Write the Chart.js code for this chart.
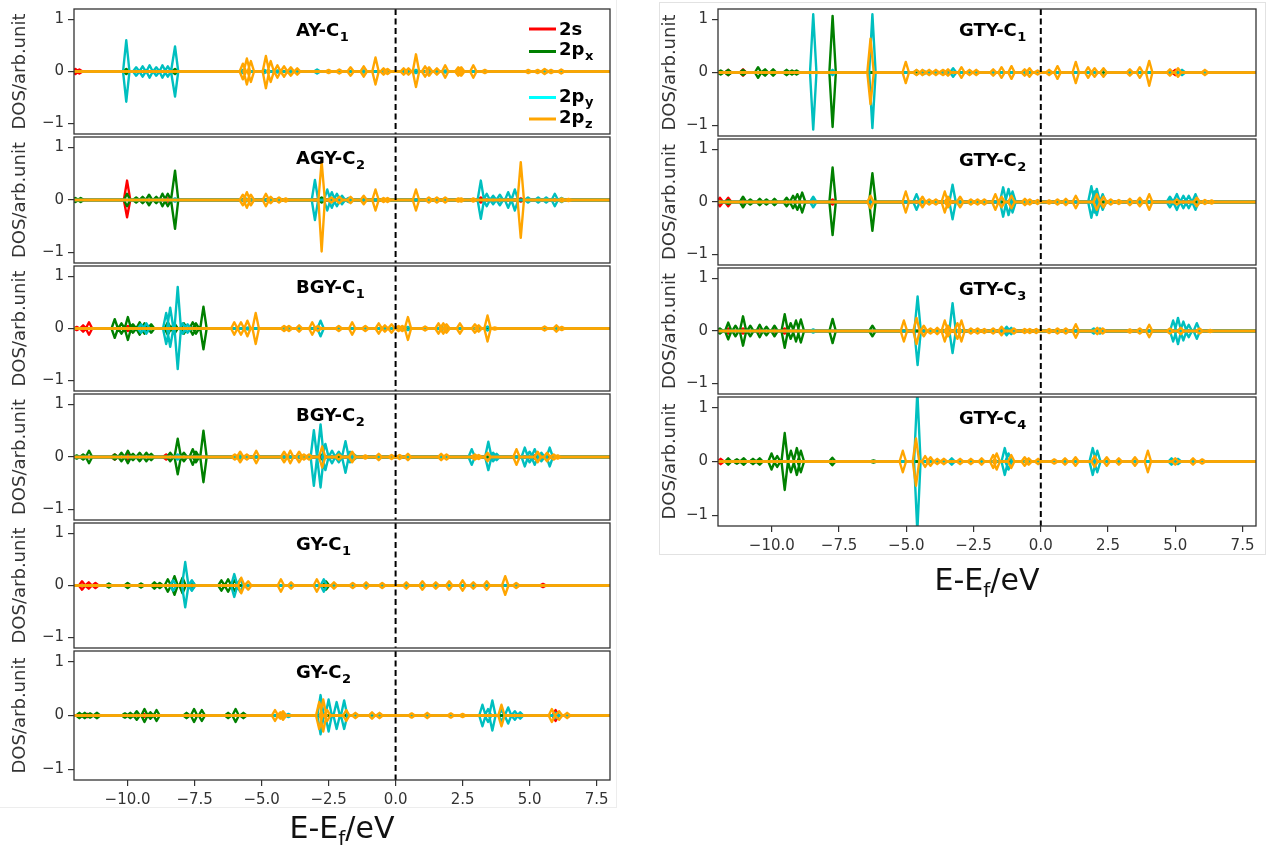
<!DOCTYPE html>
<html>
<head>
<meta charset="utf-8">
<title>Projected DOS of carbon sites</title>
<script src="https://cdn.jsdelivr.net/npm/chart.js@4.4.1/dist/chart.umd.min.js"></script>
<style>
  html, body { margin: 0; padding: 0; background: #fff; }
  #page { position: relative; width: 1266px; height: 847px; overflow: hidden; }
  #page canvas { position: absolute; }
  .frame { position: absolute; border: 1px solid #e2e2e2; }
</style>
</head>
<body>
<div id="page">
  <div class="frame" style="left:659px;top:2px;width:605px;height:551px"></div>
  <div class="frame" style="left:-2px;top:-2px;width:617px;height:808px;border-color:#ededed"></div>
</div>
<script>
// axis ticks
const xTicks = [-10, -7.5, -5, -2.5, 0, 2.5, 5, 7.5];
const yTicks = [-1, 0, 1];
const X_MIN = -12, X_MAX = 8;
const Y_MIN = -1.2, Y_MAX = 1.2;

// orbitals, in legend order
const orbitalLabels = [['2s', ''], ['2p', 'x'], ['2p', 'y'], ['2p', 'z']];
const orbitalColors = ['#ff0000', '#008000', '#00bfbf', '#ffa500'];
const legendColors = ['#ff0000', '#008000', '#00ffff', '#ffa500'];

// peaks: [energy (eV), spin-up height, spin-down height (if different)]
const AY_C1_s = [[-11.95, 0.05], [-11.8, 0.04]];
const AY_C1_px = [[-10.05, 0.05], [-8.23, 0.05]];
const AY_C1_py = [[-10.05, 0.6, 0.58], [-9.68, 0.08], [-9.44, 0.1], [-9.18, 0.12], [-8.93, 0.08], [-8.7, 0.12], [-8.5, 0.1], [-8.23, 0.48],
  [-5.7, 0.03], [-4.9, 0.03], [-4.4, 0.02], [-3.9, 0.02], [-2.93, 0.04], [-1.19, 0.02], [0.76, 0.03], [1.25, 0.03], [1.85, 0.02], [5.6, 0.02]];
const AY_C1_pz = [[-5.7, 0.15], [-5.55, 0.25], [-5.4, 0.2], [-4.84, 0.3, 0.32], [-4.66, 0.2], [-4.41, 0.12], [-4.16, 0.1], [-3.91, 0.08], [-3.67, 0.06],
  [-2.5, 0.03], [-2.1, 0.04], [-1.68, 0.08], [-1.19, 0.1], [-0.75, 0.27, 0.25], [-0.45, 0.06], [-0.3, 0.05], [0.3, 0.06], [0.48, 0.06],
  [0.76, 0.33, 0.3], [1.1, 0.1], [1.25, 0.08], [1.54, 0.06], [1.85, 0.12], [2.34, 0.08], [2.45, 0.08], [2.9, 0.12], [3.33, 0.03],
  [4.95, 0.03], [5.3, 0.03], [5.56, 0.05], [5.8, 0.03], [6.18, 0.04]];

const AGY_C2_s = [[-10.02, 0.37, 0.33], [-8.5, 0.03], [3.18, 0.05], [4.67, 0.03]];
const AGY_C2_px = [[-11.95, 0.04], [-11.75, 0.04], [-10.02, 0.12], [-9.68, 0.05], [-9.44, 0.06], [-9.2, 0.1], [-8.93, 0.06], [-8.7, 0.12],
  [-8.5, 0.12], [-8.23, 0.56, 0.55], [-2.76, 0.05]];
const AGY_C2_py = [[-8.23, 0.03], [-5.6, 0.03], [-4.7, 0.02], [-3.01, 0.38], [-2.55, 0.2], [-2.38, 0.15], [-2.19, 0.12], [-2.0, 0.08], [-1.75, 0.04],
  [3.18, 0.37, 0.36], [3.4, 0.12], [3.64, 0.08], [3.89, 0.1], [4.2, 0.15], [4.45, 0.2], [4.94, 0.05], [5.32, 0.05], [5.62, 0.05], [5.94, 0.12], [6.2, 0.04]];
const AGY_C2_pz = [[-5.7, 0.1], [-5.55, 0.15], [-5.4, 0.1], [-4.84, 0.12], [-4.66, 0.06], [-4.35, 0.05], [-4.1, 0.03], [-2.76, 0.73, 0.98],
  [-2.4, 0.05], [-2.1, 0.06], [-1.68, 0.06], [-1.19, 0.08], [-0.75, 0.2], [-0.45, 0.04], [-0.3, 0.04], [0.76, 0.2], [1.24, 0.05], [1.54, 0.05],
  [1.85, 0.05], [2.34, 0.03], [2.45, 0.03], [2.9, 0.03], [4.67, 0.72], [6.2, 0.03], [6.45, 0.02]];

const BGY_C1_s = [[-11.9, 0.03], [-11.66, 0.06], [-11.44, 0.12], [-9.99, 0.05]];
const BGY_C1_px = [[-10.48, 0.18], [-10.23, 0.1], [-9.99, 0.22], [-9.8, 0.08], [-9.55, 0.12], [-9.37, 0.1], [-9.12, 0.08], [-8.5, 0.12], [-8.25, 0.1],
  [-7.9, 0.1], [-7.57, 0.12], [-7.45, 0.1], [-7.17, 0.42, 0.4]];
const BGY_C1_py = [[-9.5, 0.08], [-9.3, 0.1], [-8.56, 0.3], [-8.41, 0.4, 0.35], [-8.13, 0.8, 0.78], [-7.94, 0.1], [-7.76, 0.08], [-5.5, 0.02],
  [-2.8, 0.15], [0.46, 0.03], [1.7, 0.04], [3.43, 0.04]];
const BGY_C1_pz = [[-6.02, 0.12], [-5.77, 0.12], [-5.53, 0.15], [-5.22, 0.3], [-4.16, 0.05], [-3.98, 0.05], [-3.6, 0.06], [-3.11, 0.12], [-2.9, 0.05],
  [-2.12, 0.05], [-1.62, 0.12], [-1.13, 0.05], [-0.63, 0.1], [-0.4, 0.06], [-0.15, 0.08], [0.11, 0.05], [0.25, 0.05], [0.46, 0.22], [1.1, 0.04],
  [1.6, 0.1], [1.78, 0.1], [1.9, 0.08], [2.4, 0.1], [2.96, 0.08], [3.1, 0.06], [3.43, 0.25], [3.7, 0.02], [5.56, 0.04], [6.0, 0.06], [6.2, 0.03]];

const BGY_C2_s = [[-10.48, 0.05], [-9.99, 0.06], [-8.56, 0.05], [5.19, 0.03]];
const BGY_C2_px = [[-11.9, 0.03], [-11.66, 0.05], [-11.44, 0.12], [-10.48, 0.05], [-10.23, 0.08], [-9.99, 0.12], [-9.8, 0.06], [-9.55, 0.08],
  [-9.3, 0.08], [-9.12, 0.06], [-8.41, 0.08], [-8.13, 0.35, 0.33], [-7.9, 0.08], [-7.57, 0.15], [-7.45, 0.1], [-7.17, 0.5, 0.48], [-2.8, 0.05]];
const BGY_C2_py = [[-8.13, 0.05], [-5.8, 0.03], [-3.05, 0.51, 0.55], [-2.8, 0.62, 0.58], [-2.62, 0.25], [-2.37, 0.12], [-2.12, 0.1], [-1.87, 0.3],
  [-1.7, 0.1], [-1.55, 0.05], [2.84, 0.15], [3.46, 0.29, 0.25], [3.64, 0.08], [3.77, 0.06], [4.82, 0.18], [5.0, 0.1], [5.19, 0.15], [5.44, 0.08], [5.75, 0.18]];
const BGY_C2_pz = [[-6.0, 0.05], [-5.8, 0.1], [-5.55, 0.05], [-5.2, 0.12], [-4.16, 0.1], [-3.93, 0.12], [-3.6, 0.1], [-3.42, 0.05], [-3.23, 0.05],
  [-2.74, 0.2], [-2.12, 0.05], [-1.62, 0.1], [-1.13, 0.03], [-0.63, 0.06], [-0.15, 0.04], [0.15, 0.04], [0.46, 0.06], [1.7, 0.06], [1.9, 0.05],
  [2.96, 0.05], [3.1, 0.04], [3.43, 0.08], [4.51, 0.15], [5.3, 0.1], [5.65, 0.08], [5.9, 0.05], [6.05, 0.03]];

const GY_C1_s = [[-11.7, 0.08], [-11.45, 0.06], [-11.2, 0.05], [5.5, 0.03]];
const GY_C1_px = [[-10.7, 0.04], [-10.0, 0.05], [-9.5, 0.04], [-9.0, 0.06], [-8.8, 0.05], [-8.5, 0.12], [-8.25, 0.18], [-7.95, 0.15], [-7.6, 0.08],
  [-6.5, 0.1], [-6.25, 0.12], [-6.0, 0.1], [-2.6, 0.08]];
const GY_C1_py = [[-8.3, 0.1], [-7.85, 0.45, 0.42], [-7.6, 0.1], [-6.02, 0.22], [-5.8, 0.12], [-2.68, 0.12]];
const GY_C1_pz = [[-5.76, 0.15], [-5.5, 0.08], [-4.28, 0.12], [-3.9, 0.06], [-2.94, 0.12], [-2.3, 0.06], [-1.6, 0.05], [-1.1, 0.06], [-0.5, 0.05],
  [0.4, 0.06], [1.0, 0.08], [1.5, 0.06], [2.0, 0.08], [2.5, 0.1], [2.9, 0.06], [3.4, 0.08], [4.09, 0.18], [4.5, 0.05]];

const GY_C2_s = [[-11.5, 0.03], [-9.4, 0.03], [5.97, 0.1]];
const GY_C2_px = [[-11.8, 0.05], [-11.6, 0.05], [-11.4, 0.04], [-11.14, 0.05], [-10.1, 0.04], [-9.9, 0.05], [-9.66, 0.08], [-9.37, 0.12],
  [-9.15, 0.06], [-8.92, 0.1], [-7.8, 0.05], [-7.52, 0.12], [-7.23, 0.1], [-6.25, 0.05], [-5.97, 0.12], [-5.68, 0.05], [-2.77, 0.03]];
const GY_C2_py = [[-4.3, 0.03], [-4.0, 0.03], [-2.8, 0.38, 0.35], [-2.5, 0.3], [-2.2, 0.25], [-1.92, 0.28, 0.25], [-0.88, 0.03], [3.24, 0.2],
  [3.45, 0.12], [3.61, 0.28], [3.95, 0.1], [4.2, 0.15], [4.45, 0.08], [4.65, 0.06], [5.97, 0.05]];
const GY_C2_pz = [[-4.5, 0.1], [-4.3, 0.06], [-4.2, 0.08], [-2.85, 0.25], [-2.7, 0.3], [-2.55, 0.1], [-1.84, 0.1], [-1.5, 0.05], [-0.88, 0.06],
  [-0.6, 0.05], [0.6, 0.04], [1.18, 0.05], [2.06, 0.04], [2.5, 0.03], [3.95, 0.2], [5.83, 0.12], [6.1, 0.08], [6.4, 0.05]];

const GTY_C1_s = [[-11.62, 0.05], [-11.07, 0.06], [5.0, 0.05]];
const GTY_C1_px = [[-11.9, 0.04], [-11.62, 0.05], [-11.07, 0.05], [-10.51, 0.1], [-10.25, 0.06], [-9.95, 0.06], [-9.45, 0.05], [-9.25, 0.04],
  [-9.08, 0.04], [-7.74, 1.07, 1.03]];
const GTY_C1_py = [[-8.46, 1.1, 1.08], [-7.74, 0.05], [-6.26, 1.1, 1.05], [-4.62, 0.04], [-4.35, 0.03], [-3.26, 0.08], [2.33, 0.06], [5.25, 0.05]];
const GTY_C1_pz = [[-6.33, 0.64, 0.6], [-5.02, 0.2], [-4.62, 0.05], [-4.4, 0.05], [-4.15, 0.05], [-3.9, 0.05], [-3.63, 0.05], [-3.45, 0.06],
  [-2.95, 0.1], [-2.65, 0.05], [-2.4, 0.05], [-1.77, 0.06], [-1.46, 0.1], [-1.09, 0.12], [-0.6, 0.06], [-0.42, 0.08], [-0.12, 0.04], [0.31, 0.05],
  [0.62, 0.12], [1.3, 0.2], [1.76, 0.1], [2.0, 0.08], [2.33, 0.08], [3.31, 0.06], [3.68, 0.1], [4.03, 0.22, 0.25], [4.8, 0.06], [5.1, 0.08], [6.1, 0.05]];

const GTY_C2_s = [[-11.93, 0.08], [-11.62, 0.08], [-11.07, 0.03], [-7.74, 0.05]];
const GTY_C2_px = [[-11.62, 0.04], [-11.07, 0.1], [-10.8, 0.05], [-10.45, 0.06], [-10.2, 0.05], [-9.9, 0.06], [-9.45, 0.08], [-9.21, 0.12],
  [-9.05, 0.15], [-8.87, 0.18, 0.2], [-7.74, 0.66, 0.63], [-6.26, 0.55]];
const GTY_C2_py = [[-8.46, 0.1], [-4.62, 0.15], [-3.28, 0.33], [-1.4, 0.28], [-1.2, 0.25], [-1.05, 0.2], [1.88, 0.3], [2.0, 0.2], [2.08, 0.25],
  [2.3, 0.15], [4.8, 0.1], [5.06, 0.15], [5.3, 0.12], [5.5, 0.12], [5.75, 0.15]];
const GTY_C2_pz = [[-6.33, 0.12], [-5.02, 0.2], [-4.4, 0.1], [-4.15, 0.05], [-3.9, 0.05], [-3.57, 0.2], [-3.45, 0.1], [-3.0, 0.1], [-2.6, 0.05],
  [-2.35, 0.05], [-2.1, 0.05], [-1.69, 0.15], [-1.46, 0.1], [-1.09, 0.12], [-0.59, 0.06], [-0.41, 0.05], [-0.12, 0.04], [0.31, 0.03], [0.62, 0.05],
  [0.93, 0.06], [1.3, 0.12], [2.08, 0.15], [2.33, 0.1], [2.6, 0.05], [2.9, 0.04], [3.31, 0.06], [3.68, 0.08], [4.03, 0.15], [5.06, 0.05],
  [5.8, 0.08], [6.1, 0.04], [6.35, 0.03]];

const GTY_C3_s = [[-11.62, 0.05], [-11.07, 0.05], [-10.45, 0.03], [-9.9, 0.03], [-9.52, 0.05]];
const GTY_C3_px = [[-11.93, 0.05], [-11.62, 0.16], [-11.35, 0.1], [-11.07, 0.28], [-10.8, 0.1], [-10.45, 0.12], [-10.2, 0.08], [-9.9, 0.1],
  [-9.52, 0.32], [-9.3, 0.15], [-9.1, 0.2], [-8.92, 0.22], [-7.74, 0.23], [-6.26, 0.1]];
const GTY_C3_py = [[-8.46, 0.03], [-4.58, 0.66, 0.65], [-3.28, 0.53, 0.42], [-1.27, 0.08], [-1.1, 0.06], [1.97, 0.05], [2.2, 0.05], [4.92, 0.2],
  [5.1, 0.25], [5.3, 0.18], [5.5, 0.12], [5.8, 0.15]];
const GTY_C3_pz = [[-5.09, 0.2], [-4.62, 0.25], [-4.35, 0.1], [-4.1, 0.05], [-3.85, 0.06], [-3.57, 0.2], [-3.45, 0.1], [-3.1, 0.15], [-2.95, 0.2],
  [-2.6, 0.05], [-2.35, 0.05], [-2.1, 0.04], [-1.77, 0.05], [-1.46, 0.08], [-1.0, 0.05], [-0.6, 0.04], [-0.41, 0.04], [-0.17, 0.04], [0.31, 0.04],
  [0.62, 0.05], [0.93, 0.05], [1.3, 0.13], [2.1, 0.06], [2.3, 0.05], [3.31, 0.03], [3.68, 0.05], [4.03, 0.12], [4.8, 0.05], [5.2, 0.06], [5.9, 0.05], [6.3, 0.02]];

const GTY_C4_s = [[-11.9, 0.05], [-11.3, 0.03], [-10.7, 0.03]];
const GTY_C4_px = [[-11.62, 0.06], [-11.3, 0.04], [-11.04, 0.06], [-10.7, 0.05], [-10.45, 0.06], [-10.01, 0.15], [-9.8, 0.1], [-9.52, 0.53],
  [-9.29, 0.2], [-9.07, 0.25], [-8.92, 0.2], [-7.75, 0.07], [-6.22, 0.02]];
const GTY_C4_py = [[-4.59, 1.3, 1.3], [-3.31, 0.06], [-1.34, 0.25], [-1.2, 0.15], [1.93, 0.25], [2.1, 0.2], [4.86, 0.06], [5.1, 0.05]];
const GTY_C4_pz = [[-5.13, 0.2], [-4.64, 0.43, 0.45], [-4.3, 0.1], [-4.1, 0.08], [-3.85, 0.05], [-3.6, 0.05], [-3.0, 0.05], [-2.6, 0.05],
  [-2.2, 0.06], [-1.77, 0.12], [-1.64, 0.15], [-1.1, 0.12], [-0.6, 0.08], [-0.45, 0.06], [-0.1, 0.05], [0.5, 0.04], [0.9, 0.06], [1.29, 0.08],
  [2.0, 0.1], [2.45, 0.08], [2.9, 0.06], [3.5, 0.08], [3.98, 0.2], [5.0, 0.06], [5.66, 0.06], [6.0, 0.04]];

// panels: name, subscript, data per orbital
const panels = [
  { name: 'AY-C', sub: '1', orbs: [AY_C1_s, AY_C1_px, AY_C1_py, AY_C1_pz], col: 0, row: 0, legend: true },
  { name: 'AGY-C', sub: '2', orbs: [AGY_C2_s, AGY_C2_px, AGY_C2_py, AGY_C2_pz], col: 0, row: 1 },
  { name: 'BGY-C', sub: '1', orbs: [BGY_C1_s, BGY_C1_px, BGY_C1_py, BGY_C1_pz], col: 0, row: 2 },
  { name: 'BGY-C', sub: '2', orbs: [BGY_C2_s, BGY_C2_px, BGY_C2_py, BGY_C2_pz], col: 0, row: 3 },
  { name: 'GY-C', sub: '1', orbs: [GY_C1_s, GY_C1_px, GY_C1_py, GY_C1_pz], col: 0, row: 4 },
  { name: 'GY-C', sub: '2', orbs: [GY_C2_s, GY_C2_px, GY_C2_py, GY_C2_pz], col: 0, row: 5 },
  { name: 'GTY-C', sub: '1', orbs: [GTY_C1_s, GTY_C1_px, GTY_C1_py, GTY_C1_pz], col: 1, row: 0 },
  { name: 'GTY-C', sub: '2', orbs: [GTY_C2_s, GTY_C2_px, GTY_C2_py, GTY_C2_pz], col: 1, row: 1 },
  { name: 'GTY-C', sub: '3', orbs: [GTY_C3_s, GTY_C3_px, GTY_C3_py, GTY_C3_pz], col: 1, row: 2 },
  { name: 'GTY-C', sub: '4', orbs: [GTY_C4_s, GTY_C4_px, GTY_C4_py, GTY_C4_pz], col: 1, row: 3 }
];

// page layout of the two stacks of panels
const columns = [
  { left: 0, width: 620, axisW: 74, padR: 10, edges: [9, 137, 266, 394, 523, 651, 780], titleX: 296, xlabX: 342, xlabDy: 58 },
  { left: 650, width: 616, axisW: 68, padR: 10, edges: [9, 139, 268, 397, 526], titleX: 309, xlabX: 337, xlabDy: 64 }
];

const HW = 0.12; // half width of a drawn peak in eV
const FONT = '"DejaVu Sans", sans-serif';
Chart.defaults.font.family = FONT;

function buildLine(peaks, dir) {
  const pts = [{ x: X_MIN, y: 0 }];
  peaks.slice().sort((a, b) => a[0] - b[0]).forEach(p => {
    const h = dir > 0 ? p[1] : -(p.length > 2 ? p[2] : p[1]);
    pts.push({ x: p[0] - HW, y: 0 }, { x: p[0], y: h }, { x: p[0] + HW, y: 0 });
  });
  pts.push({ x: X_MAX, y: 0 });
  return pts;
}

const minus = v => (v < 0 ? '\u2212' : '');

// text with a lowered subscript part
function subText(ctx, main, sub, x, y, size, bold) {
  const w = bold ? 'bold ' : '';
  const subSize = Math.round(size * 0.7);
  ctx.textAlign = 'left';
  ctx.textBaseline = 'alphabetic';
  ctx.font = w + size + 'px ' + FONT;
  const mw = ctx.measureText(main).width;
  ctx.fillText(main, x, y);
  if (sub) {
    ctx.font = w + subSize + 'px ' + FONT;
    ctx.fillText(sub, x + mw + 0.5, y + size * 0.25);
  }
}

const decor = {
  id: 'decor',
  afterDatasetsDraw(chart, args, opts) {
    const { ctx, chartArea: a, scales } = chart;
    const p = opts.panel, c = columns[p.col];
    ctx.save();
    // Fermi level
    const x0 = scales.x.getPixelForValue(0);
    ctx.strokeStyle = '#000';
    ctx.lineWidth = 2;
    ctx.setLineDash([6, 3.5]);
    ctx.beginPath();
    ctx.moveTo(x0, a.top);
    ctx.lineTo(x0, a.bottom);
    ctx.stroke();
    ctx.setLineDash([]);
    // axes frame
    ctx.strokeStyle = '#333';
    ctx.lineWidth = 1.3;
    ctx.strokeRect(a.left, a.top, a.right - a.left, a.bottom - a.top);
    // panel name
    ctx.fillStyle = '#000';
    subText(ctx, p.name, p.sub, c.titleX, a.top + 27, 18, true);
    // y label
    ctx.save();
    ctx.translate(20, (a.top + a.bottom) / 2);
    ctx.rotate(-Math.PI / 2);
    ctx.fillStyle = '#333';
    ctx.font = '18px ' + FONT;
    ctx.textAlign = 'center';
    ctx.textBaseline = 'middle';
    ctx.fillText('DOS/arb.unit', 0, 0);
    ctx.restore();
    // legend
    if (p.legend) {
      const rows = [[20, 26], [42.5, 46], [88.5, 92.5], [110, 114]];
      orbitalLabels.forEach((lab, i) => {
        ctx.strokeStyle = legendColors[i];
        ctx.lineWidth = 3;
        ctx.beginPath();
        ctx.moveTo(529, a.top + rows[i][0]);
        ctx.lineTo(556, a.top + rows[i][0]);
        ctx.stroke();
        ctx.fillStyle = '#000';
        subText(ctx, lab[0], lab[1], 559, a.top + rows[i][1], 18, true);
      });
    }
    // x label
    if (opts.bottom) {
      ctx.fillStyle = '#111';
      ctx.textAlign = 'left';
      ctx.textBaseline = 'alphabetic';
      ctx.font = '30px ' + FONT;
      const w1 = ctx.measureText('E-E').width;
      const w3 = ctx.measureText('/eV').width;
      ctx.font = '20px ' + FONT;
      const w2 = ctx.measureText('f').width;
      const xs = c.xlabX - (w1 + w2 + w3) / 2, yb = a.bottom + c.xlabDy;
      ctx.font = '30px ' + FONT;
      ctx.fillText('E-E', xs, yb);
      ctx.font = '20px ' + FONT;
      ctx.fillText('f', xs + w1, yb + 7);
      ctx.font = '30px ' + FONT;
      ctx.fillText('/eV', xs + w1 + w2, yb);
    }
    ctx.restore();
  }
};

const page = document.getElementById('page');
panels.forEach(p => {
  const c = columns[p.col];
  const top = c.edges[p.row], bot = c.edges[p.row + 1];
  const isBottom = p.row === c.edges.length - 2;
  const extra = isBottom ? 847 - bot : 3;
  const cv = document.createElement('canvas');
  cv.width = c.width;
  cv.height = (bot - top) + 3 + extra;
  cv.style.left = c.left + 'px';
  cv.style.top = (top - 3) + 'px';
  page.appendChild(cv);

  const datasets = [];
  for (let i = orbitalLabels.length - 1; i >= 0; i--) {
    [1, -1].forEach(dir => datasets.push({
      label: orbitalLabels[i].join(''),
      data: buildLine(p.orbs[i], dir),
      borderColor: orbitalColors[i],
      borderWidth: 2.4,
      borderJoinStyle: 'round',
      pointRadius: 0,
      tension: 0,
      fill: false
    }));
  }

  new Chart(cv, {
    type: 'line',
    data: { datasets },
    options: {
      responsive: false,
      animation: false,
      devicePixelRatio: 1,
      events: [],
      layout: { padding: { top: 3, bottom: isBottom ? 0 : 3, left: 0, right: c.padR } },
      plugins: {
        legend: { display: false },
        tooltip: { enabled: false },
        decor: { panel: p, bottom: isBottom }
      },
      scales: {
        x: {
          type: 'linear',
          min: X_MIN,
          max: X_MAX,
          display: isBottom,
          afterBuildTicks: s => { s.ticks = xTicks.map(v => ({ value: v })); },
          afterFit: s => { s.height = extra; s.paddingLeft = 0; s.paddingRight = 0; },
          grid: { drawOnChartArea: false, drawTicks: true, tickLength: 6, color: '#333', lineWidth: 1.2 },
          border: { display: false },
          ticks: {
            padding: 5,
            color: '#333',
            font: { size: 15 },
            maxRotation: 0,
            callback: v => minus(v) + Math.abs(v).toFixed(1)
          }
        },
        y: {
          type: 'linear',
          min: Y_MIN,
          max: Y_MAX,
          afterBuildTicks: s => { s.ticks = yTicks.map(v => ({ value: v })); },
          afterFit: s => { s.width = c.axisW; s.paddingTop = 0; s.paddingBottom = 0; },
          grid: { drawOnChartArea: false, drawTicks: true, tickLength: 6, color: '#333', lineWidth: 1.2 },
          border: { display: false },
          ticks: {
            padding: 4,
            color: '#333',
            font: { size: 15 },
            callback: v => minus(v) + Math.abs(v)
          }
        }
      }
    },
    plugins: [decor]
  });
});
</script>
</body>
</html>
